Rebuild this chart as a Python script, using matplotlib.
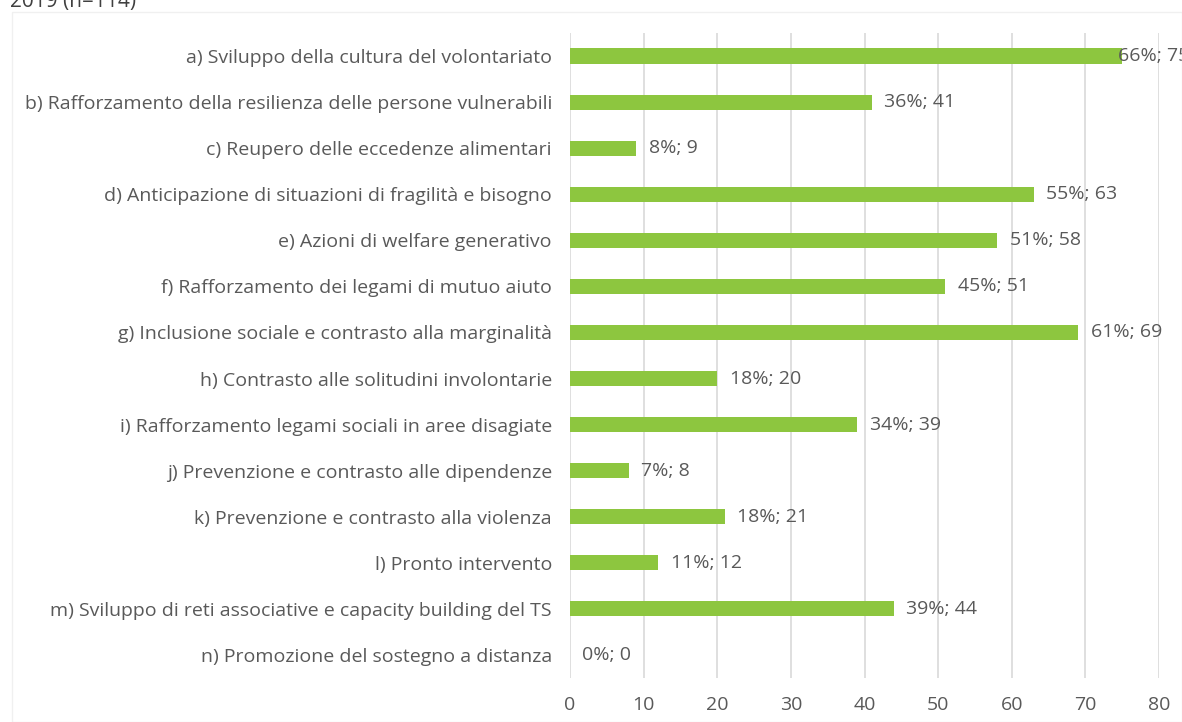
import matplotlib
matplotlib.use("Agg")
import matplotlib.pyplot as plt
from matplotlib.patches import Rectangle

categories = [
    "a) Sviluppo della cultura del volontariato",
    "b) Rafforzamento della resilienza delle persone vulnerabili",
    "c) Reupero delle eccedenze alimentari",
    "d) Anticipazione di situazioni di fragilità e bisogno",
    "e) Azioni di welfare generativo",
    "f) Rafforzamento dei legami di mutuo aiuto",
    "g) Inclusione sociale e contrasto alla marginalità",
    "h) Contrasto alle solitudini involontarie",
    "i) Rafforzamento legami sociali in aree disagiate",
    "j) Prevenzione e contrasto alle dipendenze",
    "k) Prevenzione e contrasto alla violenza",
    "l) Pronto intervento",
    "m) Sviluppo di reti associative e capacity building del TS",
    "n) Promozione del sostegno a distanza",
]
counts = [75, 41, 9, 63, 58, 51, 69, 20, 39, 8, 21, 12, 44, 0]
percents = [66, 36, 8, 55, 51, 45, 61, 18, 34, 7, 18, 11, 39, 0]
xticks = [0, 10, 20, 30, 40, 50, 60, 70, 80]
title_fragment = "2019 (n=114)"

plt.rcParams['font.family'] = ['Open Sans', 'DejaVu Sans']
text_color = "#595959"
bar_color = "#8DC63F"
FS = 14

fig = plt.figure(figsize=(11.82, 7.22), dpi=100)
ax = fig.add_axes([570/1182, 1 - 678/722, (1159-570)/1182, (678-33)/722])

y = list(range(len(categories)))
ax.barh(y, counts, height=0.33, color=bar_color, zorder=3)
for yi, c, p in zip(y, counts, percents):
    # labels that would run past the chart edge are pulled back onto the bar end
    off = 9 if c < 72 else -3
    ax.annotate(f"{p}%; {c}", xy=(c, yi), xytext=(off, 0), textcoords="offset points",
                va="center", ha="left", fontsize=FS, color=text_color,
                annotation_clip=False, zorder=4)

ax.set_ylim(len(categories) - 0.5, -0.5)
ax.set_xlim(0, 80)
ax.set_yticks(y)
ax.set_yticklabels(categories, fontsize=FS, color=text_color)
ax.set_xticks(xticks)
ax.set_xticklabels([str(t) for t in xticks], fontsize=FS, color=text_color)
ax.tick_params(axis='both', length=0)
ax.tick_params(axis='y', pad=13)
ax.tick_params(axis='x', pad=13)
ax.grid(axis='x', color="#D9D9D9", linewidth=1.2, zorder=0)
for s in ax.spines.values():
    s.set_visible(False)

# faint outer chart border
fig.patches.append(Rectangle((12/1182, 0), 1 - 12/1182, 1 - 12/722, transform=fig.transFigure,
                             fill=False, edgecolor="#F0F0F0", linewidth=1))
fig.text(10/1182, 0.998, title_fragment, fontsize=15, color="#404040", va="center", ha="left")

fig.savefig("out.png", dpi=100)
